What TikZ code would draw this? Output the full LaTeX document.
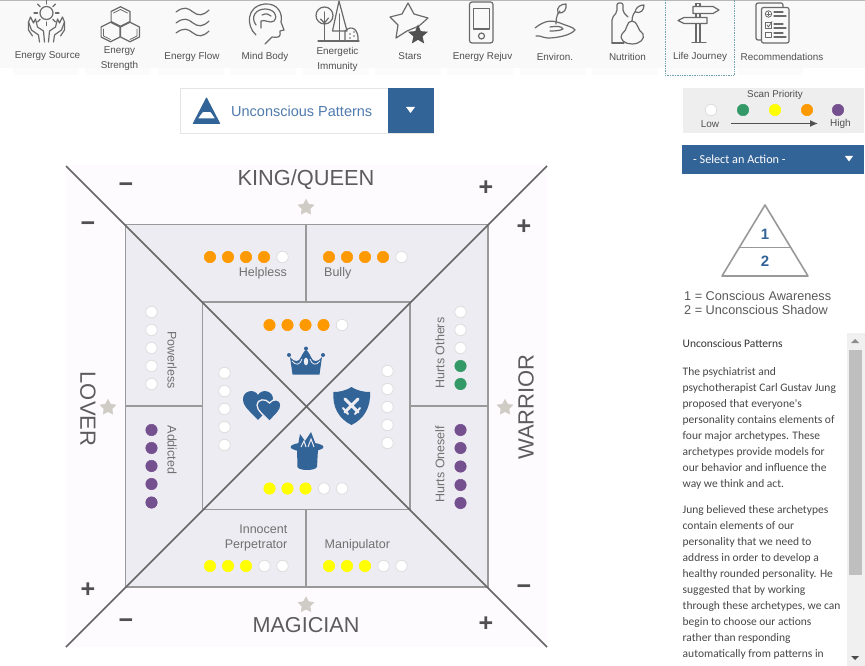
\documentclass[tikz,border=0pt]{standalone}
\usepackage{fontspec}
\setmainfont{Liberation Sans}
\newfontfamily\bodyf{Carlito}
\usetikzlibrary{shapes.geometric,arrows.meta}
\definecolor{blu}{HTML}{336498}
\definecolor{bluetx}{HTML}{4F7BAE}
\definecolor{panel}{HTML}{EEECF3}
\definecolor{halo}{HTML}{FDFBFE}
\definecolor{sq}{HTML}{999999}
\definecolor{diag}{HTML}{666666}
\definecolor{ico}{HTML}{6A6A6A}
\definecolor{orng}{HTML}{FF9900}
\definecolor{yel}{HTML}{FFFF00}
\definecolor{grn}{HTML}{339966}
\definecolor{purp}{HTML}{75508F}
\definecolor{txt}{HTML}{707070}
\definecolor{tabtx}{HTML}{505050}
\definecolor{starc}{HTML}{CFCBC5}
\newcommand{\fs}[1]{\fontsize{#1}{#1}\selectfont}
\tikzset{
  pdot/.style={circle,inner sep=0pt,minimum size=11.5pt,draw=#1,line width=0.5pt,fill=#1},
  wdot/.style={circle,inner sep=0pt,minimum size=11.5pt,draw=black!13,line width=0.8pt,fill=white},
  tabl/.style={text=tabtx,align=center,inner sep=0pt,font=\fs{9.9}},
  cell/.style={text=txt,inner sep=0pt,font=\fs{12.5}},
  arch/.style={text=diag!90!black,inner sep=0pt},
  sign/.style={text=tabtx,inner sep=0pt,font=\bfseries\fs{25}},
  body/.style={anchor=base west,inner sep=0pt,text=black!72,font=\bodyf\fs{11.5}},
  icon/.style={draw=ico,line width=1.2pt,line join=round,line cap=round,fill=none},
  st/.style={star,star points=5,star point ratio=1.95,fill=starc,draw=starc,inner sep=0pt,minimum size=16.5pt},
  sqline/.style={draw=sq,line width=1.5pt},
  dgline/.style={draw=diag,line width=1.6pt},
}
\begin{document}
\begin{tikzpicture}[x=1pt,y=-1pt]
\useasboundingbox (0,0) rectangle (865,666);
\fill[white] (0,0) rectangle (865,666);
% top bar
\fill[black!2.5] (0,0) rectangle (865,68);
\foreach \i in {0,...,10}{\fill[black!1.5] ({13+72.4*\i},68) rectangle ({79+72.4*\i},75);}
\fill[black!28] (0,0) rectangle (865,1.5);
\draw[cyan!55!black!70,line width=0.7pt,densely dotted] (665.5,0) -- (665.5,75.5) -- (734,75.5) -- (734,0);
% tab labels
\node[tabl] (t1) at (47.5,56.5) {Energy Source};
\node[tabl] (t2) at (119.5,59) {Energy\\[5pt]Strength};
\node[tabl] (t3) at (192,56.5) {Energy Flow};
\node[tabl] (t4) at (265,56.5) {Mind Body};
\node[tabl] (t5) at (337.5,59) {Energetic\\[5pt]Immunity};
\node[tabl] (t6) at (410,56.5) {Stars};
\node[tabl] (t7) at (482.5,56.5) {Energy Rejuv};
\node[tabl] (t8) at (555,56.5) {Environ.};
\node[tabl] (t9) at (627.5,56.5) {Nutrition};
\node[tabl] (t10) at (700,56.5) {Life Journey};
\node[tabl] (t11) at (782,56.5) {Recommendations};
% icon 1 sun & hands
\draw[icon] (46.5,13) circle (6.5);
\foreach \a in {0,45,...,315}{\draw[icon] ({46.5+9*cos(\a)},{13+9*sin(\a)}) -- ({46.5+12.5*cos(\a)},{13+12.5*sin(\a)});}
\foreach \s in {1,-1}{
\draw[icon] ({46.5+\s*7},42) -- ({46.5+\s*8},35) -- ({46.5+\s*15},30) -- ({46.5+\s*18},22) -- ({46.5+\s*16},17) -- ({46.5+\s*13},23) -- ({46.5+\s*11},19) -- ({46.5+\s*9},27) -- ({46.5+\s*3},31) -- ({46.5+\s*2},42);
\draw[icon] ({46.5+\s*18},22) -- ({46.5+\s*18},30) -- ({46.5+\s*14},36);
}
% icon 2 hexes
\foreach \cx/\cy in {120.5/16.5,110.5/32,130/32}{
\draw[icon] (\cx,\cy-9.8) -- (\cx+9.4,\cy-5) -- (\cx+9.4,\cy+5) -- (\cx,\cy+9.8) -- (\cx-9.4,\cy+5) -- (\cx-9.4,\cy-5) -- cycle;}
\draw[icon,line width=0.8pt] (113.5,13) -- (120.5,9.5) -- (127.5,13);
\draw[icon,line width=0.8pt] (103.5,29) -- (103.5,36) -- (110.5,39.5);
\draw[icon,line width=0.8pt] (137,29) -- (137,36) -- (130,39.5);
% icon 3 waves
\foreach \y in {12,23,33}{
\draw[icon] (176,\y) .. controls (184,\y-6) and (188,\y-4) .. (193,\y) .. controls (198,\y+4) and (203,\y+4) .. (209,\y-2);}
% icon 4 head
\draw[icon] (256,35) .. controls (246,26) and (246,6) .. (265,4) .. controls (278,3) and (283,14) .. (281,22) -- (284,30) -- (280,31) .. controls (281,37) and (279,38) .. (272,37) -- (265,44);
\draw[icon] (256,25) .. controls (250,17) and (256,9) .. (265,9) .. controls (273,9) and (279,15) .. (274,21) .. controls (270,24) and (265,19) .. (261,21) -- (261,28);
\draw[icon] (262,15) .. controls (266,13) and (269,14) .. (271,16);
% icon 5 trees
\draw[icon] (324.5,15.5) circle (8.5);
\draw[icon] (324.5,12) -- (324.5,41);
\draw[icon] (320.5,19) -- (324.5,23) -- (328.5,18);
\draw[icon] (339,1) -- (332.5,31) -- (347,31) -- cycle;
\draw[icon] (339.5,14) -- (339.5,41);
\draw[icon] (345,41) -- (345,31) .. controls (352,24) and (359,30) .. (358,41);
\fill[ico] (350,34) circle (.8) (354,36) circle (.8) (350,38) circle (.8) (354,32) circle (.8);
\draw[icon] (318,41) -- (359,41);
% icon 6 stars
\draw[icon] (408,3) -- (414,14) -- (428,18) -- (419,26) -- (407,31) -- (396,38) -- (398,25) -- (390,17) -- (402,14) -- cycle;
\node[star,star points=5,star point ratio=2.2,fill=tabtx,inner sep=0pt,minimum size=21pt] (st0) at (418,35) {};
% icon 7 phone
\draw[icon,rounded corners=2.5pt] (469.5,2) rectangle (493,43);
\draw[icon] (473.5,8.5) rectangle (489.5,29);
\draw[icon] (481.5,36) circle (3);
% icon 8 plant
\draw[icon] (535,28) .. controls (545,20) and (552,20) .. (560,23) .. controls (570,27) and (573,27) .. (575,30) .. controls (570,36) and (555,38) .. (548,38) .. controls (543,38) and (540,35) .. (536,36);
\draw[icon] (550,27) .. controls (556,26) and (562,26) .. (563,29) .. controls (560,31) and (553,31) .. (550,31);
\draw[icon] (556,24) .. controls (556,16) and (558,13) .. (560,11);
\draw[icon] (558,13) .. controls (556,7) and (561,4) .. (566,4) .. controls (567,9) and (564,14) .. (558,13);
% icon 9 nutrition
\draw[icon,rounded corners=2pt] (612,43) -- (612,18) -- (617,12) -- (617,3) -- (623,3) -- (623,12) -- (628,17);
\draw[icon] (612,43) -- (624,43);
\draw[icon] (632,21) .. controls (626,21) and (628,30) .. (622,34) .. controls (619,40) and (625,44) .. (632,44) .. controls (640,44) and (645,39) .. (643,34) .. controls (637,30) and (638,21) .. (632,21);
\draw[icon] (632,21) .. controls (632,16) and (634,13) .. (635,12);
\draw[icon] (635,12) .. controls (636,7) and (640,5) .. (644,5) .. controls (644,10) and (641,14) .. (635,12);
% icon 10 signpost
\draw[icon] (693,6.5) -- (713,6.5) -- (719,10) -- (713,13.5) -- (693,13.5) -- cycle;
\draw[icon] (707,17.5) -- (684,17.5) -- (678,20.5) -- (684,23.5) -- (707,23.5) -- cycle;
\draw[icon] (696,6.5) -- (696,3.5) -- (700,3.5) -- (700,6.5);
\draw[icon] (696,13.5) -- (696,17.5) (700,13.5) -- (700,17.5);
\draw[icon] (696,23.5) -- (696,42) (700,23.5) -- (700,42);
\draw[icon] (692,42.5) -- (706,42.5);
% icon 11 list
\draw[icon,rounded corners=2pt] (761,40) -- (756,40) -- (756,3) -- (783,3) -- (783,7);
\draw[icon,rounded corners=2pt] (761.5,7.5) rectangle (789,43);
\draw[icon,line width=0.8pt] (768.5,14) circle (3.2);
\draw[icon,line width=0.7pt] (766.8,14) -- (770.2,14) (768.5,12.3) -- (768.5,15.7);
\draw[icon] (774,12) -- (783,12) (774,16) -- (786,16);
\draw[icon,line width=0.8pt] (765.5,22.5) rectangle (771,28);
\draw[icon,line width=0.8pt] (767,25) -- (768.5,27) -- (772,21.5);
\draw[icon] (774,24) -- (783,24) (774,28) -- (786,28);
\draw[icon,line width=0.8pt] (765.5,32) rectangle (771,37.5);
\draw[icon] (774,33) -- (783,33) (774,37) -- (786,37);

% dropdown
\draw[black!10,line width=0.8pt,fill=white] (180,88.5) rectangle (433,133);
\fill[blu] (388,88) rectangle (433.5,133.5);
\fill[blu,even odd rule,rounded corners=.6pt] (206.5,97) -- (220.5,124) -- (192.5,124) -- cycle (202.7,112) -- (198,118.5) -- (215,118.5) -- (210.7,112) -- cycle;
\node[inner sep=0pt,text=bluetx,anchor=west,font=\fs{14.5}] (ddt) at (231,111) {Unconscious Patterns};
\fill[white] (406,107) -- (415,107) -- (410.5,113) -- cycle;

% legend
\fill[black!6.5] (683,88) rectangle (864,133);
\node[tabl,font=\fs{9.8}] (lgt) at (775,95) {Scan Priority};
\node[wdot] (l1) at (711,110) {};
\node[pdot=grn] (l2) at (743,110) {};
\node[pdot=yel] (l3) at (775,110) {};
\node[pdot=orng] (l4) at (807,110) {};
\node[pdot=purp] (l5) at (838,110) {};
\node[tabl,font=\fs{10}] (lo) at (710,124) {Low};
\node[tabl,font=\fs{10}] (hi) at (840.5,124) {High};
\draw[-{Latex[length=8pt,width=7pt]},draw=tabtx,fill=tabtx,line width=1.2pt] (lo) ++(21,-.5) coordinate (ara) -- ++(87,0) coordinate (arb);

% action
\fill[blu] (682,145) rectangle (864,174);
\node[inner sep=0pt,anchor=west,text=white,font=\bodyf\fs{12.2}] (act) at (693,159.5) {- Select an Action -};
\fill[white] (845,156) -- (853,156) -- (849,161.5) -- cycle;

% pyramid
\draw[draw=sq,line width=1.6pt,line join=round] (765,205) -- (722,276) -- (808,276) -- cycle;
\draw[draw=sq,line width=1.6pt] (739,247.5) -- (790.5,247.5);
\node[inner sep=0pt,text=blu,font=\bfseries\fs{15}] (p1) at (765,234) {1};
\node[inner sep=0pt,text=blu,font=\bfseries\fs{15}] (p2) at (765,261) {2};
\node[anchor=base west,inner sep=0pt,text=black!65,font=\fs{12.7}] (pa) at (684,300) {1 = Conscious Awareness};
\node[anchor=base west,inner sep=0pt,text=black!65,font=\fs{12.7}] (pb) at (684,314) {2 = Unconscious Shadow};

% scrollbar
\fill[black!6] (847,333) rectangle (865,666);
\fill[black!25] (849,350) rectangle (862,575);
\fill[black!45] (851,343) -- (859,343) -- (855,339) -- cycle;
\fill[black!70] (851,656) -- (859,656) -- (855,660) -- cycle;

% body text
\node[body,text=black!80] (b0) at (682.5,347) {Unconscious Patterns};
\node[body] (b1) at (682.5,375) {The psychiatrist and};
\node[body] (b2) at (682.5,391) {psychotherapist Carl Gustav Jung};
\node[body] (b3) at (682.5,407) {proposed that everyone's};
\node[body] (b4) at (682.5,423) {personality contains elements of};
\node[body] (b5) at (682.5,439) {four major archetypes. These};
\node[body] (b6) at (682.5,455) {archetypes provide models for};
\node[body] (b7) at (682.5,471) {our behavior and influence the};
\node[body] (b8) at (682.5,487) {way we think and act.};
\node[body] (b9) at (682.5,513) {Jung believed these archetypes};
\node[body] (b10) at (682.5,529) {contain elements of our};
\node[body] (b11) at (682.5,545) {personality that we need to};
\node[body] (b12) at (682.5,561) {address in order to develop a};
\node[body] (b13) at (682.5,577) {healthy rounded personality. He};
\node[body] (b14) at (682.5,593) {suggested that by working};
\node[body] (b15) at (682.5,609) {through these archetypes, we can};
\node[body] (b16) at (682.5,625) {begin to choose our actions};
\node[body] (b17) at (682.5,641) {rather than responding};
\node[body] (b18) at (682.5,657) {automatically from patterns in};

% diagram
\fill[halo] (66,165) rectangle (547,647);
\coordinate (c) at (306,406);
\coordinate (OTL) at (125.5,224.5); \coordinate (OTR) at (488,224.5);
\coordinate (OBR) at (488,587); \coordinate (OBL) at (125.5,587);
\coordinate (ITL) at (202.5,302); \coordinate (ITR) at (410,302);
\coordinate (IBR) at (410,509.5); \coordinate (IBL) at (202.5,509.5);
\fill[panel] (OTL) rectangle (OBR);
\draw[sqline] (OTL) rectangle (OBR);
\draw[sqline] (ITL) rectangle (IBR);
\draw[sqline] (306,224.5) -- (306,302) (306,509.5) -- (306,587) (125.5,406) -- (202.5,406) (410,406) -- (488,406);
\draw[dgline] (66,166) -- (547,647) (547,166) -- (66,647);

% archetype names
\node[arch,font=\fs{21.8}] (king) at (306,180) {KING/QUEEN};
\node[arch,font=\fs{21.6}] (mag) at (306,625) {MAGICIAN};
\node[arch,font=\fs{22},rotate=-90] (lov) at (88,409) {LOVER};
\node[arch,font=\fs{22},rotate=90] (war) at (526,407) {WARRIOR};
\node[st] (s1) at (306,207.5) {};
\node[st] (s2) at (108,407.5) {};
\node[st] (s3) at (505,407.5) {};
\node[st] (s4) at (306,605) {};
% signs
\node[sign] (m1) at (126,187.5) {\char"2212};
\node[sign] (m2) at (88,227) {\char"2212};
\node[sign] (m3) at (126,624) {\char"2212};
\node[sign] (m4) at (524,590) {\char"2212};
\node[sign] (p1a) at (486,188) {+};
\node[sign] (p2a) at (524,227) {+};
\node[sign] (p3a) at (88,590.5) {+};
\node[sign] (p4a) at (486,624) {+};

% cell labels
\node[cell,anchor=east] (hlp) at (287,273) {Helpless};
\node[cell,anchor=west] (bul) at (324,273) {Bully};
\node[cell,anchor=east] (inn) at (287.5,529.5) {Innocent};
\node[cell,anchor=east] (per) at (287.5,545.5) {Perpetrator};
\node[cell,anchor=west] (man) at (324.5,545.5) {Manipulator};
\node[cell,rotate=-90] (pow) at (172,360) {Powerless};
\node[cell,rotate=-90] (add) at (172,450) {Addicted};
\node[cell,rotate=90] (hot) at (440,353) {Hurts Others};
\node[cell,rotate=90] (hos) at (440,464) {Hurts Oneself};

% dots
\foreach \x [count=\i] in {210,228,246,264}{\node[pdot=orng] (hl\i) at (\x,257) {};}
\node[wdot] (hl5) at (282.5,257) {};
\foreach \x [count=\i] in {329,347,365,383}{\node[pdot=orng] (bu\i) at (\x,257) {};}
\node[wdot] (bu5) at (401.5,257) {};
\foreach \x [count=\i] in {269.5,287.5,305.5,323.5}{\node[pdot=orng] (it\i) at (\x,325) {};}
\node[wdot] (it5) at (342,325) {};
\foreach \x [count=\i] in {269.5,287.5,305.5}{\node[pdot=yel] (ib\i) at (\x,488.5) {};}
\node[wdot] (ib4) at (324,488.5) {};
\node[wdot] (ib5) at (342,488.5) {};
\foreach \y [count=\i] in {373,391,409,427,445}{\node[wdot] (il\i) at (224.5,\y) {};}
\foreach \y [count=\i] in {371,389,407,425,443}{\node[wdot] (ir\i) at (387.5,\y) {};}
\foreach \y [count=\i] in {312,330,348,366,384}{\node[wdot] (pw\i) at (151.5,\y) {};}
\foreach \y [count=\i] in {430,448,466,484,502.5}{\node[pdot=purp] (ad\i) at (151.5,\y) {};}
\foreach \y [count=\i] in {312,330,348}{\node[wdot] (ho\i) at (460.5,\y) {};}
\foreach \y [count=\i] in {366,384}{\node[pdot=grn] (hg\i) at (460.5,\y) {};}
\foreach \y [count=\i] in {430,448,466.5,485,503}{\node[pdot=purp] (hs\i) at (460.5,\y) {};}
\foreach \x [count=\i] in {210,228,246}{\node[pdot=yel] (ip\i) at (\x,566) {};}
\node[wdot] (ip4) at (264.5,566) {};
\node[wdot] (ip5) at (282.5,566) {};
\foreach \x [count=\i] in {329,347,365}{\node[pdot=yel] (mn\i) at (\x,566) {};}
\node[wdot] (mn4) at (383.5,566) {};
\node[wdot] (mn5) at (401.5,566) {};

% crown
\fill[blu] (292.5,374.5) -- (290,357) .. controls (295,363) and (299,362) .. (301,357) .. controls (303,353) and (305,350) .. (306,350) .. controls (307,350) and (309,353) .. (311,357) .. controls (313,362) and (317,363) .. (322,357) -- (319.5,374.5) -- cycle;
\fill[blu] (289,355) circle (2) (323,355) circle (2) (306,348.5) circle (2);
\fill[panel] (306,361.5) ellipse (2.2 and 3.8);
\draw[panel,line width=.8pt] (292,361) .. controls (296,366) and (300,365) .. (302,359) (320,361) .. controls (316,366) and (312,365) .. (310,359);
% hearts
\fill[blu] (258,420) .. controls (250,411) and (243,407) .. (243,399) .. controls (243,391) and (254,388) .. (258,395) .. controls (262,388) and (273,391) .. (273,399) .. controls (273,407) and (266,411) .. (258,420) -- cycle;
\fill[blu,draw=panel,line width=1.3pt] (269.5,421.5) .. controls (264,415) and (257,411) .. (257,405) .. controls (257,399) and (266,398) .. (269.5,403) .. controls (273,398) and (281,399) .. (281,405) .. controls (281,411) and (275,415) .. (269.5,421.5) -- cycle;
% shield
\fill[blu] (351.5,387) .. controls (358,391) and (364,392) .. (370,392) .. controls (371,407) and (364,419) .. (351.5,425) .. controls (339,419) and (332,407) .. (333.5,392) .. controls (339,392) and (345,391) .. (351.5,387) -- cycle;
\draw[panel,line width=3pt,line cap=round] (345,399) -- (358,412) (358,399) -- (345,412);
\draw[panel,line width=2pt,line cap=round] (343,408) -- (348,414) (360,408) -- (355,414);
% hat
\fill[blu] (297,449) -- (297.5,467) .. controls (299,471) and (315,471) .. (317,467) -- (318,449) -- cycle;
\fill[blu] (307,447) ellipse (16.5 and 4.5);
\fill[blu] (298,445) -- (300,434) -- (305,441) -- (311,432) -- (316,445) -- cycle;
\draw[panel,line width=1pt] (301,447) -- (304,441) -- (306,447) (308,447) -- (311,439) -- (314,447);
\end{tikzpicture}
\end{document}
